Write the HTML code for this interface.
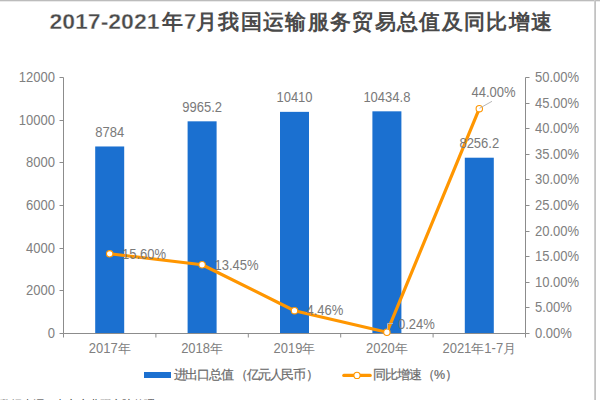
<!DOCTYPE html>
<html><head><meta charset="utf-8"><style>
html,body{margin:0;padding:0;background:#fff;width:600px;height:400px;overflow:hidden}
svg{display:block}
text{font-family:"Liberation Sans",sans-serif}
.ax{font-size:13px;fill:#808080}
.lab{font-size:13px;fill:#7a7a7a}
.n{font-size:14px}
.leg{font-size:12.5px;fill:#6a6a6a;stroke:#6a6a6a;stroke-width:0.2px}
.title{font-size:22px;font-weight:bold;fill:#4a4a4a}
.tc{font-size:20.5px}
.thin{stroke:#fff;stroke-width:0.35px}
.src{font-size:11px;fill:#333}
</style></head><body>
<svg width="600" height="400" viewBox="0 0 600 400">
<rect x="95.2" y="146.47400000000002" width="29" height="186.52599999999998" fill="#1b70d0"/>
<rect x="187.60000000000002" y="121.32428333333334" width="29" height="211.67571666666666" fill="#1b70d0"/>
<rect x="280.0" y="111.85374999999999" width="29" height="221.14625" fill="#1b70d0"/>
<rect x="372.40000000000003" y="111.3257166666667" width="29" height="221.6742833333333" fill="#1b70d0"/>
<rect x="464.8" y="157.71174166666665" width="29" height="175.28825833333335" fill="#1b70d0"/>
<line x1="63.5" y1="77.5" x2="63.5" y2="333.5" stroke="#8c8c8c" stroke-width="1"/>
<line x1="59.5" y1="77.5" x2="63.5" y2="77.5" stroke="#8c8c8c"/>
<text x="55" y="82.0" text-anchor="end" class="ax n" textLength="36.15" lengthAdjust="spacingAndGlyphs">12000</text>
<line x1="59.5" y1="120.5" x2="63.5" y2="120.5" stroke="#8c8c8c"/>
<text x="55" y="125.0" text-anchor="end" class="ax n" textLength="36.15" lengthAdjust="spacingAndGlyphs">10000</text>
<line x1="59.5" y1="162.5" x2="63.5" y2="162.5" stroke="#8c8c8c"/>
<text x="55" y="167.0" text-anchor="end" class="ax n" textLength="28.92" lengthAdjust="spacingAndGlyphs">8000</text>
<line x1="59.5" y1="205.5" x2="63.5" y2="205.5" stroke="#8c8c8c"/>
<text x="55" y="210.0" text-anchor="end" class="ax n" textLength="28.92" lengthAdjust="spacingAndGlyphs">6000</text>
<line x1="59.5" y1="248.5" x2="63.5" y2="248.5" stroke="#8c8c8c"/>
<text x="55" y="253.0" text-anchor="end" class="ax n" textLength="28.92" lengthAdjust="spacingAndGlyphs">4000</text>
<line x1="59.5" y1="290.5" x2="63.5" y2="290.5" stroke="#8c8c8c"/>
<text x="55" y="295.0" text-anchor="end" class="ax n" textLength="28.92" lengthAdjust="spacingAndGlyphs">2000</text>
<line x1="59.5" y1="333.5" x2="63.5" y2="333.5" stroke="#8c8c8c"/>
<text x="55" y="338.0" text-anchor="end" class="ax n" textLength="7.23" lengthAdjust="spacingAndGlyphs">0</text>
<line x1="525.5" y1="77.5" x2="525.5" y2="333.5" stroke="#8c8c8c"/>
<line x1="525.5" y1="77.5" x2="529.5" y2="77.5" stroke="#8c8c8c"/>
<text x="535" y="82.0" class="ax n" textLength="44.09" lengthAdjust="spacingAndGlyphs">50.00%</text>
<line x1="525.5" y1="103.5" x2="529.5" y2="103.5" stroke="#8c8c8c"/>
<text x="535" y="108.0" class="ax n" textLength="44.09" lengthAdjust="spacingAndGlyphs">45.00%</text>
<line x1="525.5" y1="128.5" x2="529.5" y2="128.5" stroke="#8c8c8c"/>
<text x="535" y="133.0" class="ax n" textLength="44.09" lengthAdjust="spacingAndGlyphs">40.00%</text>
<line x1="525.5" y1="154.5" x2="529.5" y2="154.5" stroke="#8c8c8c"/>
<text x="535" y="159.0" class="ax n" textLength="44.09" lengthAdjust="spacingAndGlyphs">35.00%</text>
<line x1="525.5" y1="179.5" x2="529.5" y2="179.5" stroke="#8c8c8c"/>
<text x="535" y="184.0" class="ax n" textLength="44.09" lengthAdjust="spacingAndGlyphs">30.00%</text>
<line x1="525.5" y1="205.5" x2="529.5" y2="205.5" stroke="#8c8c8c"/>
<text x="535" y="210.0" class="ax n" textLength="44.09" lengthAdjust="spacingAndGlyphs">25.00%</text>
<line x1="525.5" y1="231.5" x2="529.5" y2="231.5" stroke="#8c8c8c"/>
<text x="535" y="236.0" class="ax n" textLength="44.09" lengthAdjust="spacingAndGlyphs">20.00%</text>
<line x1="525.5" y1="256.5" x2="529.5" y2="256.5" stroke="#8c8c8c"/>
<text x="535" y="261.0" class="ax n" textLength="44.09" lengthAdjust="spacingAndGlyphs">15.00%</text>
<line x1="525.5" y1="282.5" x2="529.5" y2="282.5" stroke="#8c8c8c"/>
<text x="535" y="287.0" class="ax n" textLength="44.09" lengthAdjust="spacingAndGlyphs">10.00%</text>
<line x1="525.5" y1="307.5" x2="529.5" y2="307.5" stroke="#8c8c8c"/>
<text x="535" y="312.0" class="ax n" textLength="36.86" lengthAdjust="spacingAndGlyphs">5.00%</text>
<line x1="525.5" y1="333.5" x2="529.5" y2="333.5" stroke="#8c8c8c"/>
<text x="535" y="338.0" class="ax n" textLength="36.86" lengthAdjust="spacingAndGlyphs">0.00%</text>
<line x1="63.5" y1="333.5" x2="525.5" y2="333.5" stroke="#8c8c8c"/>
<line x1="63.5" y1="333.5" x2="63.5" y2="337.5" stroke="#8c8c8c"/>
<line x1="155.9" y1="333.5" x2="155.9" y2="337.5" stroke="#8c8c8c"/>
<line x1="248.3" y1="333.5" x2="248.3" y2="337.5" stroke="#8c8c8c"/>
<line x1="340.70000000000005" y1="333.5" x2="340.70000000000005" y2="337.5" stroke="#8c8c8c"/>
<line x1="433.1" y1="333.5" x2="433.1" y2="337.5" stroke="#8c8c8c"/>
<line x1="525.5" y1="333.5" x2="525.5" y2="337.5" stroke="#8c8c8c"/>
<text x="88.74" y="353" class="ax n" textLength="28.92" lengthAdjust="spacingAndGlyphs">2017</text>
<text x="117.66" y="353" class="ax">年</text>
<text x="181.14" y="353" class="ax n" textLength="28.92" lengthAdjust="spacingAndGlyphs">2018</text>
<text x="210.06" y="353" class="ax">年</text>
<text x="273.54" y="353" class="ax n" textLength="28.92" lengthAdjust="spacingAndGlyphs">2019</text>
<text x="302.46" y="353" class="ax">年</text>
<text x="365.94" y="353" class="ax n" textLength="28.92" lengthAdjust="spacingAndGlyphs">2020</text>
<text x="394.86" y="353" class="ax">年</text>
<text x="442.45" y="353" class="ax n" textLength="28.92" lengthAdjust="spacingAndGlyphs">2021</text>
<text x="471.37" y="353" class="ax">年</text>
<text x="484.37" y="353" class="ax n" textLength="18.79" lengthAdjust="spacingAndGlyphs">1-7</text>
<text x="503.15" y="353" class="ax">月</text>
<polyline points="109.70,253.78 202.10,264.77 294.50,310.71 386.90,332.27 479.30,108.66" fill="none" stroke="#ff9600" stroke-width="3.2" stroke-linejoin="round"/>
<circle cx="109.70" cy="253.78" r="3.2" fill="#fff" stroke="#ff9600" stroke-width="1.1"/>
<circle cx="202.10" cy="264.77" r="3.2" fill="#fff" stroke="#ff9600" stroke-width="1.1"/>
<circle cx="294.50" cy="310.71" r="3.2" fill="#fff" stroke="#ff9600" stroke-width="1.1"/>
<circle cx="386.90" cy="332.27" r="3.2" fill="#fff" stroke="#ff9600" stroke-width="1.1"/>
<circle cx="479.30" cy="108.66" r="3.2" fill="#fff" stroke="#ff9600" stroke-width="1.1"/>
<text x="109.70" y="136.97" text-anchor="middle" class="lab n" textLength="28.92" lengthAdjust="spacingAndGlyphs">8784</text>
<text x="202.10" y="111.82" text-anchor="middle" class="lab n" textLength="39.76" lengthAdjust="spacingAndGlyphs">9965.2</text>
<text x="294.50" y="102.35" text-anchor="middle" class="lab n" textLength="36.15" lengthAdjust="spacingAndGlyphs">10410</text>
<text x="386.90" y="101.83" text-anchor="middle" class="lab n" textLength="46.99" lengthAdjust="spacingAndGlyphs">10434.8</text>
<text x="479.30" y="148.21" text-anchor="middle" class="lab n" textLength="39.76" lengthAdjust="spacingAndGlyphs">8256.2</text>
<text x="122" y="258.784" class="lab n" textLength="44.09" lengthAdjust="spacingAndGlyphs">15.60%</text>
<text x="214.5" y="269.87050000000005" class="lab n" textLength="44.09" lengthAdjust="spacingAndGlyphs">13.45%</text>
<text x="306.5" y="315.2094" class="lab n" textLength="36.86" lengthAdjust="spacingAndGlyphs">4.46%</text>
<text x="398" y="328.9736" class="lab n" textLength="36.86" lengthAdjust="spacingAndGlyphs">0.24%</text>
<polyline points="387.5,330 387.5,323.5 393,323.5" fill="none" stroke="#b4b4b4" stroke-width="1"/>
<line x1="479.5" y1="108.3" x2="492" y2="101.3" stroke="#b8b8b8" stroke-width="1"/>
<text x="471.5" y="96.8" class="lab n" textLength="44.09" lengthAdjust="spacingAndGlyphs">44.00%</text>
<rect x="144" y="372" width="27" height="6" fill="#1b70d0"/>
<text x="173.5" y="378.8" textLength="60" lengthAdjust="spacing" class="leg">进出口总值</text><text x="234.8" y="378.8" class="leg">（</text><text x="246.5" y="378.8" textLength="59" lengthAdjust="spacing" class="leg">亿元人民币</text><text x="305.6" y="378.8" class="leg">）</text>
<line x1="343.8" y1="375.4" x2="370.2" y2="375.4" stroke="#ff9600" stroke-width="3.2" stroke-linecap="round"/>
<circle cx="357" cy="375.4" r="3.1" fill="#fff" stroke="#ff9600" stroke-width="1.1"/>
<text x="372.5" y="378.8" textLength="49" lengthAdjust="spacing" class="leg">同比增速</text><text x="422.1" y="378.8" class="leg">（</text><text x="434" y="378.8" class="leg">%</text><text x="444.5" y="378.8" class="leg">）</text>
<text x="49.5" y="29" textLength="110" lengthAdjust="spacingAndGlyphs" class="title thin">2017-2021</text>
<text x="162" y="28.8" class="title tc">年</text>
<text x="184" y="29" class="title thin">7</text>
<text x="196" y="29" textLength="356" lengthAdjust="spacing" class="title tc">月我国运输服务贸易总值及同比增速</text>
<text x="0" y="408" textLength="155" lengthAdjust="spacing" class="src">数据来源：中商产业研究院整理</text>
<rect x="0" y="0" width="600" height="1" fill="#bcbcbc"/><rect x="0" y="1" width="600" height="1" fill="#eaeaea"/>
<rect x="594" y="0" width="1" height="400" fill="#cfcfcf"/><rect x="595" y="0" width="1" height="400" fill="#c2c2c2"/>
</svg>
</body></html>
